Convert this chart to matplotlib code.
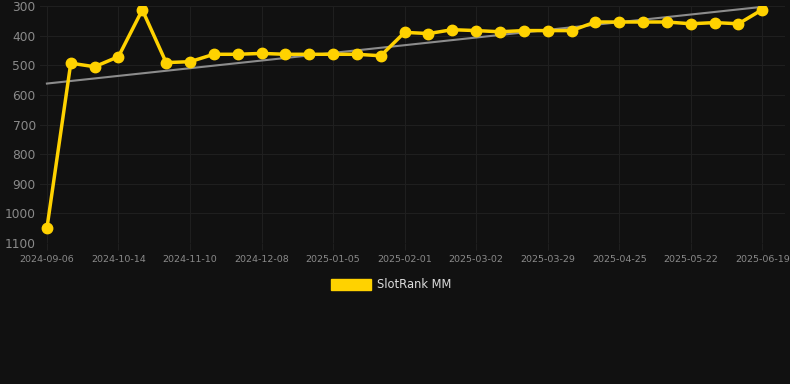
import matplotlib
matplotlib.use("Agg")
import matplotlib.pyplot as plt
import numpy as np

dates = ["2024-09-06", "", "", "2024-10-14", "", "", "2024-11-10", "", "", "2024-12-08",
         "", "", "2025-01-05", "", "", "2025-02-01", "", "", "2025-03-02", "", "",
         "2025-03-29", "", "", "2025-04-25", "", "", "2025-05-22", "", "", "2025-06-19"]
ranks = [1050, 493, 505, 471, 313, 491, 488, 463, 463, 460, 463, 463, 463, 463, 468,
         389, 393, 380, 383, 387, 383, 383, 383, 354, 354, 354, 354, 360, 356, 360, 312]
series_name = "SlotRank MM"
y_ticks = [300, 400, 500, 600, 700, 800, 900, 1000, 1100]

BG = "#111111"
GOLD = "#FFD200"
GRID = "#1f1f1f"
TICK = "#8a8a8a"

W, H = 790, 384
fig = plt.figure(figsize=(W / 100, H / 100), dpi=100, facecolor=BG)
ax = fig.add_axes([40 / W, (H - 243) / H, 745 / W, 237 / H], facecolor=BG)

x = np.arange(len(ranks))
coef = np.polyfit(x, ranks, 1)
ax.plot(x, np.polyval(coef, x), color="#8c8c8c", lw=1.5, zorder=2)
ax.plot(x, ranks, color=GOLD, lw=2.5, marker="o", ms=7.5, zorder=3,
        solid_joinstyle="round")

ax.set_ylim(1100, 300)
ax.set_xlim(-0.29, 30.95)
ax.set_yticks(y_ticks)
tick_idx = [i for i, d in enumerate(dates) if d]
ax.set_xticks(tick_idx)
ax.set_xticklabels([dates[i] for i in tick_idx])

ax.grid(True, color=GRID, lw=0.8)
ax.set_axisbelow(True)
for s in ax.spines.values():
    s.set_visible(False)
ax.tick_params(axis="y", length=0, pad=3, labelsize=8.8, labelcolor=TICK)
ax.tick_params(axis="x", length=5, color=GRID, pad=4, labelsize=6.8, labelcolor=TICK)

# legend
fig.patches.append(plt.Rectangle((331 / W, (H - 290) / H), 40 / W, 11 / H,
                                 transform=fig.transFigure, color=GOLD))
fig.text(377 / W, (H - 285) / H, series_name, color="#dddddd", fontsize=8.3,
         va="center", ha="left")

fig.savefig("out.png", dpi=100, facecolor=BG)
